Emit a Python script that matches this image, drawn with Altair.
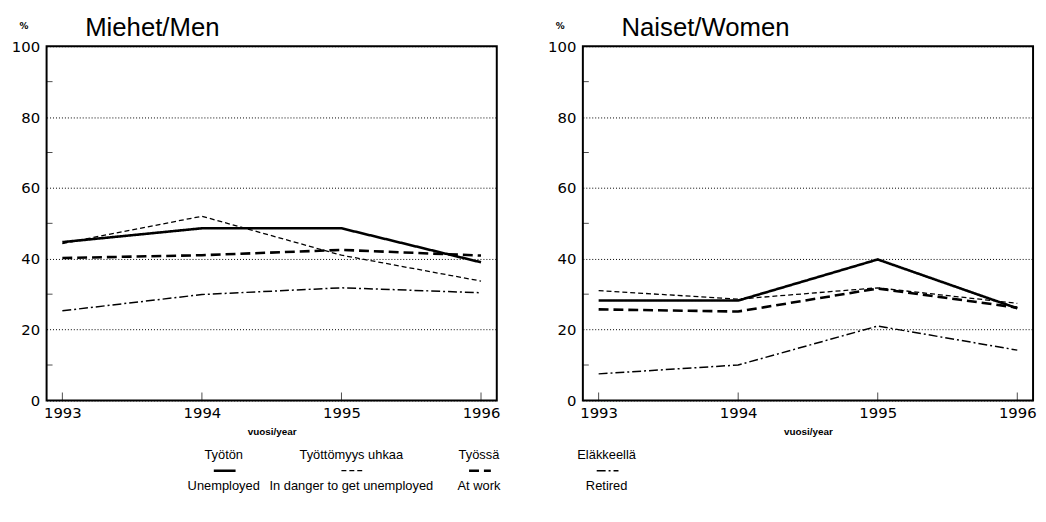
import altair as alt
import pandas as pd

years = [1993, 1994, 1995, 1996]
series_keys = ["Unemployed", "Danger", "Work", "Retired"]

men_unemployed = [44.7, 48.6, 48.6, 39.0]
men_danger = [44.3, 52.0, 41.0, 33.7]
men_work = [40.2, 41.0, 42.5, 40.9]
men_retired = [25.3, 29.9, 31.8, 30.4]

women_unemployed = [28.2, 28.2, 39.8, 26.0]
women_danger = [31.0, 28.6, 31.8, 27.4]
women_work = [25.7, 25.1, 31.6, 26.2]
women_retired = [7.5, 10.0, 21.0, 14.2]

legend_fi = ["Työtön", "Työttömyys uhkaa", "Työssä", "Eläkkeellä"]
legend_en = ["Unemployed", "In danger to get unemployed", "At work", "Retired"]

y_labels = [0, 20, 40, 60, 80, 100]
minor_ticks = [10, 30, 50, 70, 90]

dash_range = [[1, 0], [5, 3], [10, 5], [9, 3, 2, 3]]
width_range = [2.6, 1.3, 2.6, 1.5]

TICK_FONT = "DejaVu Sans"
TEXT_FONT = "Liberation Sans"


def long_df(vals):
    rows = []
    for key, series in zip(series_keys, vals):
        for yr, v in zip(years, series):
            rows.append({"year": yr, "series": key, "value": v})
    return pd.DataFrame(rows)


def dash_enc():
    return alt.StrokeDash(
        "series:N",
        scale=alt.Scale(type="ordinal", domain=series_keys, range=dash_range),
        legend=None,
    )


def width_enc():
    return alt.StrokeWidth(
        "series:N",
        scale=alt.Scale(type="ordinal", domain=series_keys, range=width_range),
        legend=None,
    )


def panel(title, vals, w, h):
    df = long_df(vals)
    xscale = alt.Scale(type="point", padding=0.113)
    yscale = alt.Scale(domain=[0, 100], nice=False)
    x = alt.X(
        "year:O",
        scale=xscale,
        axis=alt.Axis(
            title="vuosi/year",
            labelAngle=0,
            labelFont=TICK_FONT,
            labelFontSize=15,
            labelColor="black",
            labelPadding=5,
            ticks=False,
            domain=False,
            grid=False,
            titleFont=TEXT_FONT,
            titleFontSize=10,
            titleFontWeight="bold",
            titleColor="black",
            titlePadding=6,
        ),
    )
    y = alt.Y(
        "value:Q",
        scale=yscale,
        axis=alt.Axis(
            values=y_labels,
            title="%",
            titleAngle=0,
            titleX=-28,
            titleY=-18,
            titleAlign="left",
            titleBaseline="alphabetic",
            titleFont=TICK_FONT,
            titleFontSize=9,
            titleFontWeight="bold",
            titleColor="black",
            labelFont=TICK_FONT,
            labelFontSize=15,
            labelColor="black",
            labelPadding=7,
            ticks=False,
            domain=False,
            grid=True,
            gridColor="black",
            gridDash=[1, 2],
            gridWidth=1,
            gridOpacity=1,
        ),
    )
    lines = alt.Chart(df).mark_line(color="black").encode(
        x=x,
        y=y,
        detail="series:N",
        strokeDash=dash_enc(),
        strokeWidth=width_enc(),
    )
    year_ticks = alt.Chart(pd.DataFrame({"year": years})).mark_tick(
        orient="vertical", size=8, thickness=1, color="black", yOffset=-4
    ).encode(x=alt.X("year:O", scale=xscale), y=alt.datum(0))
    ymin = alt.Chart(pd.DataFrame({"v": minor_ticks})).mark_tick(
        orient="horizontal", size=6, thickness=1, color="black", xOffset=3
    ).encode(y=alt.Y("v:Q", scale=yscale), x=alt.value(0))
    return alt.layer(lines, year_ticks, ymin).properties(
        width=w,
        height=h,
        title=alt.TitleParams(
            title,
            anchor="start",
            frame="group",
            dx=39,
            offset=-20,
            font=TEXT_FONT,
            fontSize=26,
            fontWeight="normal",
            color="black",
        ),
    )


left = panel("Miehet/Men", [men_unemployed, men_danger, men_work, men_retired], 455, 358)
right = panel("Naiset/Women", [women_unemployed, women_danger, women_work, women_retired], 455, 358)

leg_df = pd.DataFrame({"series": series_keys, "fi": legend_fi, "en": legend_en})
lscale = alt.Scale(type="point", domain=series_keys, padding=1)
lx = alt.X("series:N", scale=lscale, axis=None)
SHIFT = 50

fi_text = alt.Chart(leg_df).mark_text(
    font=TEXT_FONT, fontSize=13, color="black", baseline="middle", dx=SHIFT
).encode(x=lx, y=alt.value(8), text="fi:N")
en_text = alt.Chart(leg_df).mark_text(
    font=TEXT_FONT, fontSize=13, color="black", baseline="middle", dx=SHIFT
).encode(x=lx, y=alt.value(40), text="en:N")
samples = alt.Chart(leg_df).mark_rule(
    color="black", xOffset=SHIFT - 10, x2Offset=SHIFT + 12
).encode(
    x=lx,
    x2="series:N",
    y=alt.value(24),
    strokeDash=dash_enc(),
    strokeWidth=width_enc(),
)
legend = alt.layer(fi_text, samples, en_text).properties(
    width=645, height=50, view=alt.ViewBackground(stroke="transparent")
)

chart = (
    alt.vconcat(alt.hconcat(left, right, spacing=45), legend, spacing=9)
    .properties(padding={"left": 2, "top": 4, "right": 0, "bottom": 0}, background="white")
    .configure_view(stroke="black", strokeWidth=2)
)

chart.save("out.html", embed_options={"renderer": "svg", "actions": False})
